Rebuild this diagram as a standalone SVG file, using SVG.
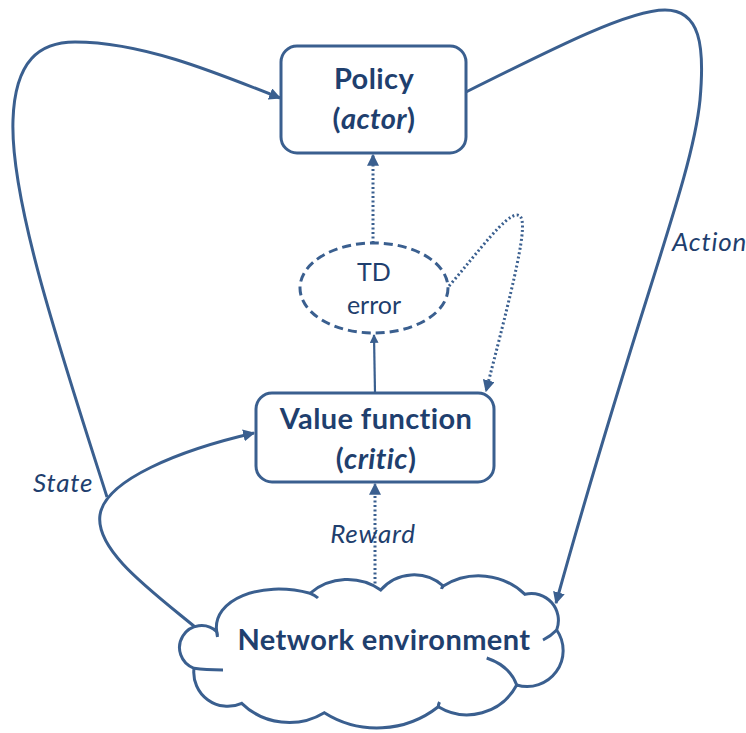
<svg xmlns="http://www.w3.org/2000/svg" width="746" height="733" viewBox="0 0 746 733">
  <style>
    .node { fill: #ffffff; stroke: #3A5F8F; stroke-width: 3; }
    .edge { fill: none; stroke: #3A5F8F; stroke-width: 3; }
    .thin { fill: none; stroke: #3A5F8F; stroke-width: 2.2; }
    .dot { fill: none; stroke: #3A5F8F; stroke-width: 3; stroke-dasharray: 2 2.5; }
    .dash { fill: #ffffff; stroke: #3A5F8F; stroke-width: 3; stroke-dasharray: 9 5; }
    .title { font-family: Lato, "Open Sans", sans-serif; font-weight: bold; fill: #1F3F6E; text-anchor: middle; font-size: 29px; letter-spacing: 0.4px; }
    .plain { font-family: Lato, "Open Sans", sans-serif; fill: #1F3F6E; text-anchor: middle; font-size: 25px; }
    .label { font-family: Lato, "Open Sans", sans-serif; font-style: italic; fill: #1F3F6E; font-size: 26px; letter-spacing: 0.8px; }
  </style>
  <defs>
    <marker id="arrow" viewBox="0 0 10 10" refX="9" refY="5" markerWidth="4" markerHeight="4" orient="auto" markerUnits="strokeWidth">
      <path d="M0,0 L10,5 L0,10 z" fill="#3A5F8F"/>
    </marker>
  </defs>

  <g id="connectors">
    <!-- state feedback to the policy -->
    <path class="edge" d="M107,497 C60,350 10,200 13,120 C15,60 40,42 75,42 C140,42 210,70 280,98" marker-end="url(#arrow)"/>
    <!-- state feedback to the critic -->
    <path class="edge" d="M195,627 C150,590 95,550 100,515 C105,480 180,450 254,433" marker-end="url(#arrow)"/>
    <!-- action to the environment -->
    <path class="edge" d="M466,92 C560,45 630,10 665,10 C700,10 705,45 700,100 C692,180 640,300 556,603" marker-end="url(#arrow)"/>
    <!-- TD error to the actor -->
    <path class="dot" d="M373,243 L373,155" marker-end="url(#arrow)"/>
    <!-- critic to TD error -->
    <path class="thin" d="M375,393 L374,335" marker-end="url(#arrow)"/>
    <!-- TD error back to the critic -->
    <path class="dot" d="M449,286 C480,250 505,215 517,215 C530,215 520,260 486,391" marker-end="url(#arrow)"/>
    <!-- reward -->
    <path class="dot" d="M375,588 L375,484" marker-end="url(#arrow)"/>
  </g>

  <g id="policy">
    <rect class="node" x="281" y="46" width="185" height="107" rx="16"/>
    <text class="title" x="374" y="89">Policy</text>
    <text class="title" x="374" y="129">(<tspan font-style="italic">actor</tspan>)</text>
  </g>

  <g id="td-error">
    <ellipse class="dash" cx="374" cy="288" rx="74" ry="45"/>
    <text class="plain" x="374" y="281">TD</text>
    <text class="plain" x="374" y="314">error</text>
  </g>

  <g id="value-function">
    <rect class="node" x="256" y="393" width="238" height="89" rx="16"/>
    <text class="title" x="376" y="429">Value function</text>
    <text class="title" x="376" y="469">(<tspan font-style="italic">critic</tspan>)</text>
  </g>

  <g id="environment">
    <path class="node" d="M216.7,631.7 C212,600 260,580 310,593.3 A58,58 0 0 1 380.7,590 A44,44 0 0 1 443.3,586 A67,67 0 0 1 525,594.3 A27,27 0 0 1 556.7,630 A36,36 0 0 1 516.7,685 A56,56 0 0 1 438.3,706.7 A99,99 0 0 1 324.3,712.7 A68,68 0 0 1 241.7,703.3 A34,34 0 0 1 194,668.3 A22,22 0 1 1 216.7,631.7 Z"/>
    <!-- inner arc ends of the cloud lobes -->
    <path class="edge" d="M310,593.3 Q315,595 318,598"/>
    <path class="edge" d="M443.3,586 Q442,587 441.5,589"/>
    <path class="edge" d="M556.7,630 Q551,636 543,640"/>
    <path class="edge" d="M486.7,658 Q510,666 516.7,685"/>
    <path class="edge" d="M438.3,706.7 Q438.5,704 439.5,702"/>
    <path class="edge" d="M194,668.3 Q205,670 223,670"/>
    <path class="edge" d="M216.7,631.7 Q217,634 217.5,637"/>
    <text class="title" x="384" y="650">Network environment</text>
  </g>

  <g id="labels">
    <text class="label" x="33" y="492">State</text>
    <text class="label" x="672" y="251">Action</text>
    <text class="label" x="373" y="543" text-anchor="middle">Reward</text>
  </g>
</svg>
